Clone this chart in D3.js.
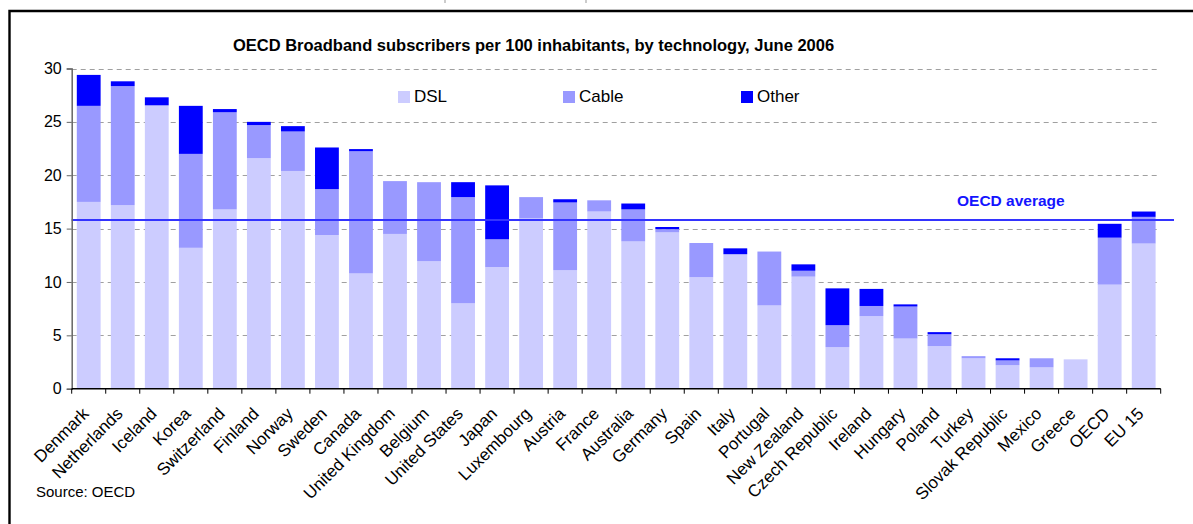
<!DOCTYPE html>
<html>
<head>
<meta charset="utf-8">
<script src="https://cdn.jsdelivr.net/npm/d3@7"></script>
<style>
  html, body { margin: 0; padding: 0; background: #fff; }
  svg { display: block; font-family: "Liberation Sans", Arial, sans-serif; }
</style>
</head>
<body>
<svg id="chart" width="1193" height="524"></svg>
<script>
// Broadband subscribers per 100 inhabitants, June 2006
const countries = ["Denmark", "Netherlands", "Iceland", "Korea", "Switzerland", "Finland", "Norway",
  "Sweden", "Canada", "United Kingdom", "Belgium", "United States", "Japan", "Luxembourg", "Austria",
  "France", "Australia", "Germany", "Spain", "Italy", "Portugal", "New Zealand", "Czech Republic",
  "Ireland", "Hungary", "Poland", "Turkey", "Slovak Republic", "Mexico", "Greece", "OECD", "EU 15"];

const dsl = [17.5, 17.2, 26.55, 13.2, 16.8, 21.6, 20.4, 14.4, 10.8, 14.5, 11.95, 8.0, 11.4, 15.95, 11.1,
  16.6, 13.8, 14.65, 10.45, 12.6, 7.8, 10.5, 3.9, 6.8, 4.7, 4.0, 2.85, 2.2, 2.0, 2.75, 9.75, 13.6];
const cable = [9.0, 11.15, 0.0, 8.8, 9.1, 3.1, 3.7, 4.3, 11.45, 4.95, 7.4, 9.95, 2.6, 2.0, 6.35,
  1.05, 3.0, 0.3, 3.2, 0.0, 5.05, 0.55, 2.05, 0.95, 3.0, 1.1, 0.2, 0.45, 0.85, 0.0, 4.4, 2.5];
const other = [2.9, 0.45, 0.75, 4.5, 0.3, 0.3, 0.5, 3.9, 0.2, 0.0, 0.0, 1.4, 5.05, 0.0, 0.3,
  0.0, 0.55, 0.2, 0.0, 0.55, 0.0, 0.6, 3.45, 1.6, 0.2, 0.2, 0.0, 0.2, 0.0, 0.0, 1.3, 0.5];

const seriesNames = ["DSL", "Cable", "Other"];
const seriesColors = ["#ccccff", "#9999ff", "#0000ff"];
const yTicks = [0, 5, 10, 15, 20, 25, 30];
const oecdAverage = 15.8;

const title = "OECD Broadband subscribers per 100 inhabitants, by technology, June 2006";
const sourceNote = "Source: OECD";

const svg = d3.select("#chart");

// outer frame (runs off the right and bottom edges)
svg.append("path")
  .attr("d", "M9.5,524 L9.5,11 L1193,11")
  .attr("fill", "none").attr("stroke", "#000").attr("stroke-width", 2.4);

// small marks along the top edge
[445, 586].forEach(x => svg.append("line")
  .attr("x1", x).attr("x2", x).attr("y1", 0).attr("y2", 3)
  .attr("stroke", "#999").attr("stroke-width", 1));

const x0 = 71.7, x1 = 1160.7, yBase = 388.7, yTop = 68.5;

const x = d3.scaleBand().domain(countries).range([x0, x1]).paddingInner(0.3).paddingOuter(0.15);
const y = d3.scaleLinear().domain([0, 30]).range([yBase, yTop]);

// gridlines
svg.append("g").selectAll("line").data(yTicks.filter(t => t > 0)).join("line")
  .attr("x1", x0).attr("x2", x1 - 4)
  .attr("y1", d => Math.round(y(d)) + 0.5).attr("y2", d => Math.round(y(d)) + 0.5)
  .attr("stroke", "#a0a0a0").attr("stroke-width", 1).attr("stroke-dasharray", "5,4");

// stacked bars
const rows = countries.map((c, i) => ({ country: c, DSL: dsl[i], Cable: cable[i], Other: other[i] }));
const stack = d3.stack().keys(seriesNames)(rows);

svg.append("g").selectAll("g").data(stack).join("g")
  .attr("fill", (d, i) => seriesColors[i])
  .selectAll("rect").data(d => d).join("rect")
  .attr("x", d => x(d.data.country))
  .attr("width", x.bandwidth())
  .attr("y", d => y(d[1]))
  .attr("height", d => Math.max(0, y(d[0]) - y(d[1])));

// OECD average line
svg.append("line")
  .attr("x1", x0).attr("x2", 1174)
  .attr("y1", y(oecdAverage)).attr("y2", y(oecdAverage))
  .attr("stroke", "#3333ff").attr("stroke-width", 2);

svg.append("text")
  .attr("x", 957).attr("y", y(oecdAverage) - 14)
  .attr("fill", "#1414ff").attr("font-weight", "bold").attr("font-size", 15.5)
  .text("OECD average");

// y axis
const yAxis = svg.append("g")
  .attr("transform", `translate(${x0},0)`)
  .call(d3.axisLeft(y).tickValues(yTicks).tickSize(5).tickPadding(5).tickFormat(d3.format("d")));
yAxis.select(".domain").attr("stroke", "#666").attr("stroke-width", 1.5);
yAxis.selectAll(".tick line").attr("stroke", "#666");
yAxis.selectAll("text").attr("font-size", 16).attr("fill", "#000")
  .attr("font-family", "'Liberation Sans', Arial, sans-serif");

// x axis with tick marks between categories
const step = x.step();
const bounds = countries.map(c => x(c) - (step - x.bandwidth()) / 2).concat([x1]);
svg.append("line").attr("x1", x0).attr("x2", x1).attr("y1", yBase).attr("y2", yBase)
  .attr("stroke", "#000").attr("stroke-width", 1.5);
svg.append("g").selectAll("line").data(bounds).join("line")
  .attr("x1", d => d).attr("x2", d => d).attr("y1", yBase).attr("y2", yBase + 5)
  .attr("stroke", "#000");

svg.append("g").selectAll("text").data(countries).join("text")
  .attr("transform", d => `translate(${x(d) + x.bandwidth() / 2 + 1},${yBase + 26}) rotate(-45)`)
  .attr("text-anchor", "end")
  .attr("font-size", 17)
  .attr("fill", "#000")
  .text(d => d);

// title
svg.append("text")
  .attr("x", 533.5).attr("y", 51)
  .attr("text-anchor", "middle")
  .attr("font-weight", "bold").attr("font-size", 16.5)
  .text(title);

// legend
const legendX = [398, 563, 741];
const legend = svg.append("g").selectAll("g").data(seriesNames).join("g")
  .attr("transform", (d, i) => `translate(${legendX[i]},91)`);
legend.append("rect").attr("width", 12).attr("height", 12).attr("fill", (d, i) => seriesColors[i]);
legend.append("text").attr("x", 16).attr("y", 11).attr("font-size", 17).attr("fill", "#000").text(d => d);

// source note
svg.append("text").attr("x", 36).attr("y", 497).attr("font-size", 15).attr("fill", "#000").text(sourceNote);
</script>
</body>
</html>
